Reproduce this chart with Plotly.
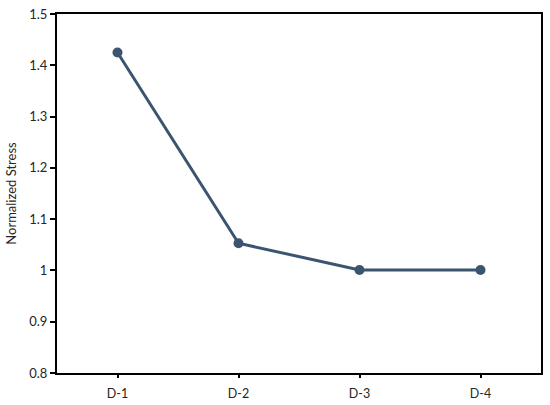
import plotly.graph_objects as go

# datos
casos = ['D-1', 'D-2', 'D-3', 'D-4']
esfuerzo_normalizado = [1.425, 1.053, 1.001, 1.001]
y_ticks = [0.8, 0.9, 1.0, 1.1, 1.2, 1.3, 1.4, 1.5]
y_labels = ['0.8', '0.9', '1', '1.1', '1.2', '1.3', '1.4', '1.5']

fig = go.Figure()

fig.add_trace(go.Scatter(
    x=casos,
    y=esfuerzo_normalizado,
    mode='lines+markers',
    line=dict(color='#3b5470', width=3),
    marker=dict(size=10, color='#3b5470'),
    showlegend=False
))

fig.update_layout(
    width=550,
    height=405,
    margin=dict(l=57, r=9, t=14, b=32),
    paper_bgcolor='white',
    plot_bgcolor='white',
    font=dict(family='Lato, sans-serif', size=12, color='#262626'),
    xaxis=dict(
        range=[-0.5, 3.5],
        showgrid=False,
        showline=True, linecolor='black', linewidth=2,
        mirror=True,
        ticks='outside', ticklen=3, tickcolor='black', tickwidth=2,
        ticklabelstandoff=5,
        automargin=False,
        tickfont=dict(size=12.5)
    ),
    yaxis=dict(
        title=dict(text='Normalized Stress', font=dict(size=13), standoff=10),
        range=[0.8, 1.5],
        tickvals=y_ticks,
        ticktext=y_labels,
        showgrid=False,
        zeroline=False,
        showline=True, linecolor='black', linewidth=2,
        mirror=True,
        ticks='outside', ticklen=5, tickcolor='black', tickwidth=1.5,
        automargin=False,
        tickfont=dict(size=13)
    )
)

# quitar el margen del body para que el grafico quede en (0, 0)
fig.write_html("out.html", config={'displayModeBar': False},
               post_script="document.body.style.margin='0';")
